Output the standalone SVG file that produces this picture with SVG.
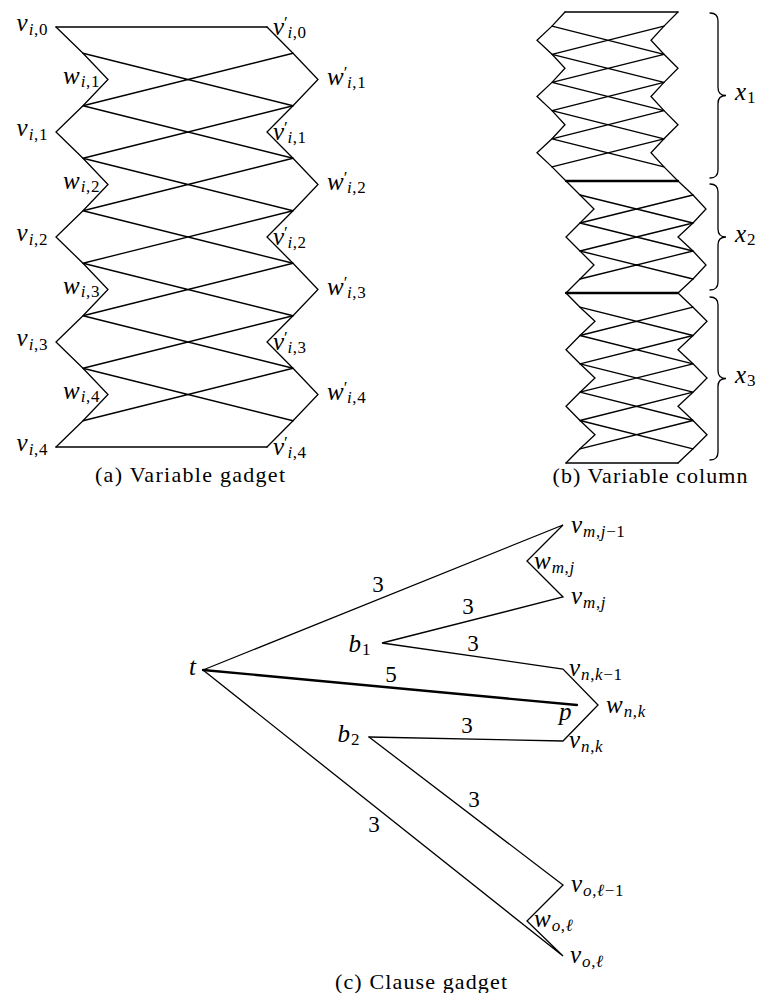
<svg xmlns="http://www.w3.org/2000/svg" width="761" height="993" viewBox="0 0 761 993" font-family="'Liberation Serif', 'DejaVu Serif', serif">
<style>
.ln{stroke:#000;stroke-width:1.3;fill:none;stroke-linejoin:miter;stroke-linecap:round}
.thk{stroke-width:2.3}
text{font-family:"Liberation Serif","DejaVu Serif",serif;font-size:25px;fill:#000}
.mi{font-style:italic}
.sb{font-size:17px;letter-spacing:0.6px}
.cap{font-size:22px}
.num{font-size:23px;text-anchor:middle}
</style>
<rect width="761" height="993" fill="#fff"/>
<g id="connectors">
  <path class="ln" d="M56 27H267M56 447H267"/>
  <polyline class="ln" points="56,27 83,53.25 108,79.5 83,105.75 56,132 83,158.25 108,184.5 83,210.75 56,237 83,263.25 108,289.5 83,315.75 56,342 83,368.25 108,394.5 83,420.75 56,447"/>
  <polyline class="ln" points="267,27 293,53.25 318,79.5 293,105.75 267,132 293,158.25 318,184.5 293,210.75 267,237 293,263.25 318,289.5 293,315.75 267,342 293,368.25 318,394.5 293,420.75 267,447"/>
  <path class="ln" d="M83 53.25L293 105.75M83 105.75L293 53.25M83 105.75L293 158.25M83 158.25L293 105.75M83 158.25L293 210.75M83 210.75L293 158.25M83 210.75L293 263.25M83 263.25L293 210.75M83 263.25L293 315.75M83 315.75L293 263.25M83 315.75L293 368.25M83 368.25L293 315.75M83 368.25L293 420.75M83 420.75L293 368.25"/>
  <path class="ln" d="M565 12H678M566 463H678"/>
  <path class="ln thk" d="M566 181H678M566 293H678"/>
  <polyline class="ln" points="565,12 552,26.1 537,40.2 552,54.3 565,68.3 552,82.4 537,96.5 552,110.6 565,124.7 552,138.8 537,152.8 552,166.9 566,181"/>
  <polyline class="ln" points="678,12 664,26.1 651,40.2 664,54.3 678,68.3 664,82.4 651,96.5 664,110.6 678,124.7 664,138.8 651,152.8 664,166.9 678,181"/>
  <path class="ln" d="M552 26.1L664 54.3M552 54.3L664 26.1M552 54.3L664 82.4M552 82.4L664 54.3M552 82.4L664 110.6M552 110.6L664 82.4M552 110.6L664 138.8M552 138.8L664 110.6M552 138.8L664 166.9M552 166.9L664 138.8"/>
  <polyline class="ln" points="566,181 580,195 594,209 580,223 566,237 580,251 594,265 580,279 566,293"/>
  <polyline class="ln" points="678,181 693,195 706,209 693,223 678,237 693,251 706,265 693,279 678,293"/>
  <path class="ln" d="M580 195L693 223M580 223L693 195M580 223L693 251M580 251L693 223M580 251L693 279M580 279L693 251"/>
  <polyline class="ln" points="566,293 580,307.2 595,321.3 580,335.5 566,349.7 580,363.8 595,378 580,392.2 566,406.3 580,420.5 595,434.7 580,448.8 566,463"/>
  <polyline class="ln" points="678,293 693,307.2 707,321.3 693,335.5 678,349.7 693,363.8 707,378 693,392.2 678,406.3 693,420.5 707,434.7 693,448.8 678,463"/>
  <path class="ln" d="M580 307.2L693 335.5M580 335.5L693 307.2M580 335.5L693 363.8M580 363.8L693 335.5M580 363.8L693 392.2M580 392.2L693 363.8M580 392.2L693 420.5M580 420.5L693 392.2M580 420.5L693 448.8M580 448.8L693 420.5"/>
  <path class="ln" d="M710 13Q718 13 718 21L718 87.5Q718 95.5 726 95.5Q718 95.5 718 103.5L718 170Q718 178 710 178"/>
  <path class="ln" d="M710 184Q718 184 718 192L718 229Q718 237 726 237Q718 237 718 245L718 282Q718 290 710 290"/>
  <path class="ln" d="M710 297Q718 297 718 305L718 370.5Q718 378.5 726 378.5Q718 378.5 718 386.5L718 452Q718 460 710 460"/>
  <polyline class="ln" points="203,670 563,525 527,561 563,597 382,643 563,669 598,705 563,741 369,737"/>
  <line class="ln thk" x1="203" y1="670" x2="577" y2="705"/>
  <polyline class="ln" points="369,737 563,885 527,921 563,956 203,670"/>
</g>
<g id="edge-labels">
  <text class="num" x="378" y="592">3</text>
  <text class="num" x="468" y="614">3</text>
  <text class="num" x="473" y="651">3</text>
  <text class="num" x="391" y="682">5</text>
  <text class="num" x="467" y="733">3</text>
  <text class="num" x="474" y="807">3</text>
  <text class="num" x="374" y="832">3</text>
</g>
<g id="v_i0"><text x="48" y="31" text-anchor="end"><tspan class="mi">v</tspan><tspan class="sb mi" dx="1" dy="3.5">i</tspan><tspan class="sb">,0</tspan></text></g>
<g id="w_i1"><text x="100" y="83.5" text-anchor="end"><tspan class="mi">w</tspan><tspan class="sb mi" dx="1" dy="3.5">i</tspan><tspan class="sb">,1</tspan></text></g>
<g id="v_i1"><text x="48" y="136" text-anchor="end"><tspan class="mi">v</tspan><tspan class="sb mi" dx="1" dy="3.5">i</tspan><tspan class="sb">,1</tspan></text></g>
<g id="w_i2"><text x="100" y="188.5" text-anchor="end"><tspan class="mi">w</tspan><tspan class="sb mi" dx="1" dy="3.5">i</tspan><tspan class="sb">,2</tspan></text></g>
<g id="v_i2"><text x="48" y="241" text-anchor="end"><tspan class="mi">v</tspan><tspan class="sb mi" dx="1" dy="3.5">i</tspan><tspan class="sb">,2</tspan></text></g>
<g id="w_i3"><text x="100" y="293.5" text-anchor="end"><tspan class="mi">w</tspan><tspan class="sb mi" dx="1" dy="3.5">i</tspan><tspan class="sb">,3</tspan></text></g>
<g id="v_i3"><text x="48" y="346" text-anchor="end"><tspan class="mi">v</tspan><tspan class="sb mi" dx="1" dy="3.5">i</tspan><tspan class="sb">,3</tspan></text></g>
<g id="w_i4"><text x="100" y="398.5" text-anchor="end"><tspan class="mi">w</tspan><tspan class="sb mi" dx="1" dy="3.5">i</tspan><tspan class="sb">,4</tspan></text></g>
<g id="v_i4"><text x="48" y="451" text-anchor="end"><tspan class="mi">v</tspan><tspan class="sb mi" dx="1" dy="3.5">i</tspan><tspan class="sb">,4</tspan></text></g>
<g id="vp_i0"><text x="273" y="35"><tspan class="mi">v</tspan><tspan class="sb" dy="-7">′</tspan><tspan class="sb mi" dx="-1" dy="10">i</tspan><tspan class="sb">,0</tspan></text></g>
<g id="wp_i1"><text x="327" y="85"><tspan class="mi">w</tspan><tspan class="sb" dy="-7">′</tspan><tspan class="sb mi" dx="-1" dy="10">i</tspan><tspan class="sb">,1</tspan></text></g>
<g id="vp_i1"><text x="273" y="140"><tspan class="mi">v</tspan><tspan class="sb" dy="-7">′</tspan><tspan class="sb mi" dx="-1" dy="10">i</tspan><tspan class="sb">,1</tspan></text></g>
<g id="wp_i2"><text x="327" y="190"><tspan class="mi">w</tspan><tspan class="sb" dy="-7">′</tspan><tspan class="sb mi" dx="-1" dy="10">i</tspan><tspan class="sb">,2</tspan></text></g>
<g id="vp_i2"><text x="273" y="245"><tspan class="mi">v</tspan><tspan class="sb" dy="-7">′</tspan><tspan class="sb mi" dx="-1" dy="10">i</tspan><tspan class="sb">,2</tspan></text></g>
<g id="wp_i3"><text x="327" y="295"><tspan class="mi">w</tspan><tspan class="sb" dy="-7">′</tspan><tspan class="sb mi" dx="-1" dy="10">i</tspan><tspan class="sb">,3</tspan></text></g>
<g id="vp_i3"><text x="273" y="350"><tspan class="mi">v</tspan><tspan class="sb" dy="-7">′</tspan><tspan class="sb mi" dx="-1" dy="10">i</tspan><tspan class="sb">,3</tspan></text></g>
<g id="wp_i4"><text x="327" y="400"><tspan class="mi">w</tspan><tspan class="sb" dy="-7">′</tspan><tspan class="sb mi" dx="-1" dy="10">i</tspan><tspan class="sb">,4</tspan></text></g>
<g id="vp_i4"><text x="273" y="455"><tspan class="mi">v</tspan><tspan class="sb" dy="-7">′</tspan><tspan class="sb mi" dx="-1" dy="10">i</tspan><tspan class="sb">,4</tspan></text></g>
<g id="cap_a"><text class="cap" x="190" y="482" text-anchor="middle" textLength="190">(a) Variable gadget</text></g>
<g id="x1"><text x="735" y="100"><tspan class="mi">x</tspan><tspan class="sb" dx="1" dy="3">1</tspan></text></g>
<g id="x2"><text x="735" y="242"><tspan class="mi">x</tspan><tspan class="sb" dx="1" dy="3">2</tspan></text></g>
<g id="x3"><text x="735" y="383"><tspan class="mi">x</tspan><tspan class="sb" dx="1" dy="3">3</tspan></text></g>
<g id="cap_b"><text class="cap" x="650" y="483" text-anchor="middle" textLength="195">(b) Variable column</text></g>
<g id="t"><text class="mi" x="196" y="675" text-anchor="end">t</text></g>
<g id="b1"><text x="371" y="652" text-anchor="end"><tspan class="mi">b</tspan><tspan class="sb" dx="1" dy="3">1</tspan></text></g>
<g id="b2"><text x="360" y="742" text-anchor="end"><tspan class="mi">b</tspan><tspan class="sb" dx="1" dy="3">2</tspan></text></g>
<g id="p"><text class="mi" x="559" y="720">p</text></g>
<g id="v_mj1"><text x="571" y="533"><tspan class="mi">v</tspan><tspan class="sb mi" dx="1" dy="4">m</tspan><tspan class="sb">,</tspan><tspan class="sb mi">j</tspan><tspan class="sb">−1</tspan></text></g>
<g id="w_mj"><text x="534" y="569"><tspan class="mi">w</tspan><tspan class="sb mi" dx="1" dy="4">m</tspan><tspan class="sb">,</tspan><tspan class="sb mi">j</tspan></text></g>
<g id="v_mj"><text x="571" y="604"><tspan class="mi">v</tspan><tspan class="sb mi" dx="1" dy="4">m</tspan><tspan class="sb">,</tspan><tspan class="sb mi">j</tspan></text></g>
<g id="v_nk1"><text x="569" y="676"><tspan class="mi">v</tspan><tspan class="sb mi" dx="1" dy="4">n</tspan><tspan class="sb">,</tspan><tspan class="sb mi">k</tspan><tspan class="sb">−1</tspan></text></g>
<g id="w_nk"><text x="606" y="713"><tspan class="mi">w</tspan><tspan class="sb mi" dx="1" dy="4">n</tspan><tspan class="sb">,</tspan><tspan class="sb mi">k</tspan></text></g>
<g id="v_nk"><text x="569" y="748"><tspan class="mi">v</tspan><tspan class="sb mi" dx="1" dy="4">n</tspan><tspan class="sb">,</tspan><tspan class="sb mi">k</tspan></text></g>
<g id="v_ol1"><text x="571" y="892"><tspan class="mi">v</tspan><tspan class="sb mi" dx="1" dy="4">o</tspan><tspan class="sb">,</tspan><tspan class="sb mi">ℓ</tspan><tspan class="sb">−1</tspan></text></g>
<g id="w_ol"><text x="534" y="927"><tspan class="mi">w</tspan><tspan class="sb mi" dx="1" dy="4">o</tspan><tspan class="sb">,</tspan><tspan class="sb mi">ℓ</tspan></text></g>
<g id="v_ol"><text x="570" y="963"><tspan class="mi">v</tspan><tspan class="sb mi" dx="1" dy="4">o</tspan><tspan class="sb">,</tspan><tspan class="sb mi">ℓ</tspan></text></g>
<g id="cap_c"><text class="cap" x="421" y="989" text-anchor="middle" textLength="172">(c) Clause gadget</text></g>
</svg>
